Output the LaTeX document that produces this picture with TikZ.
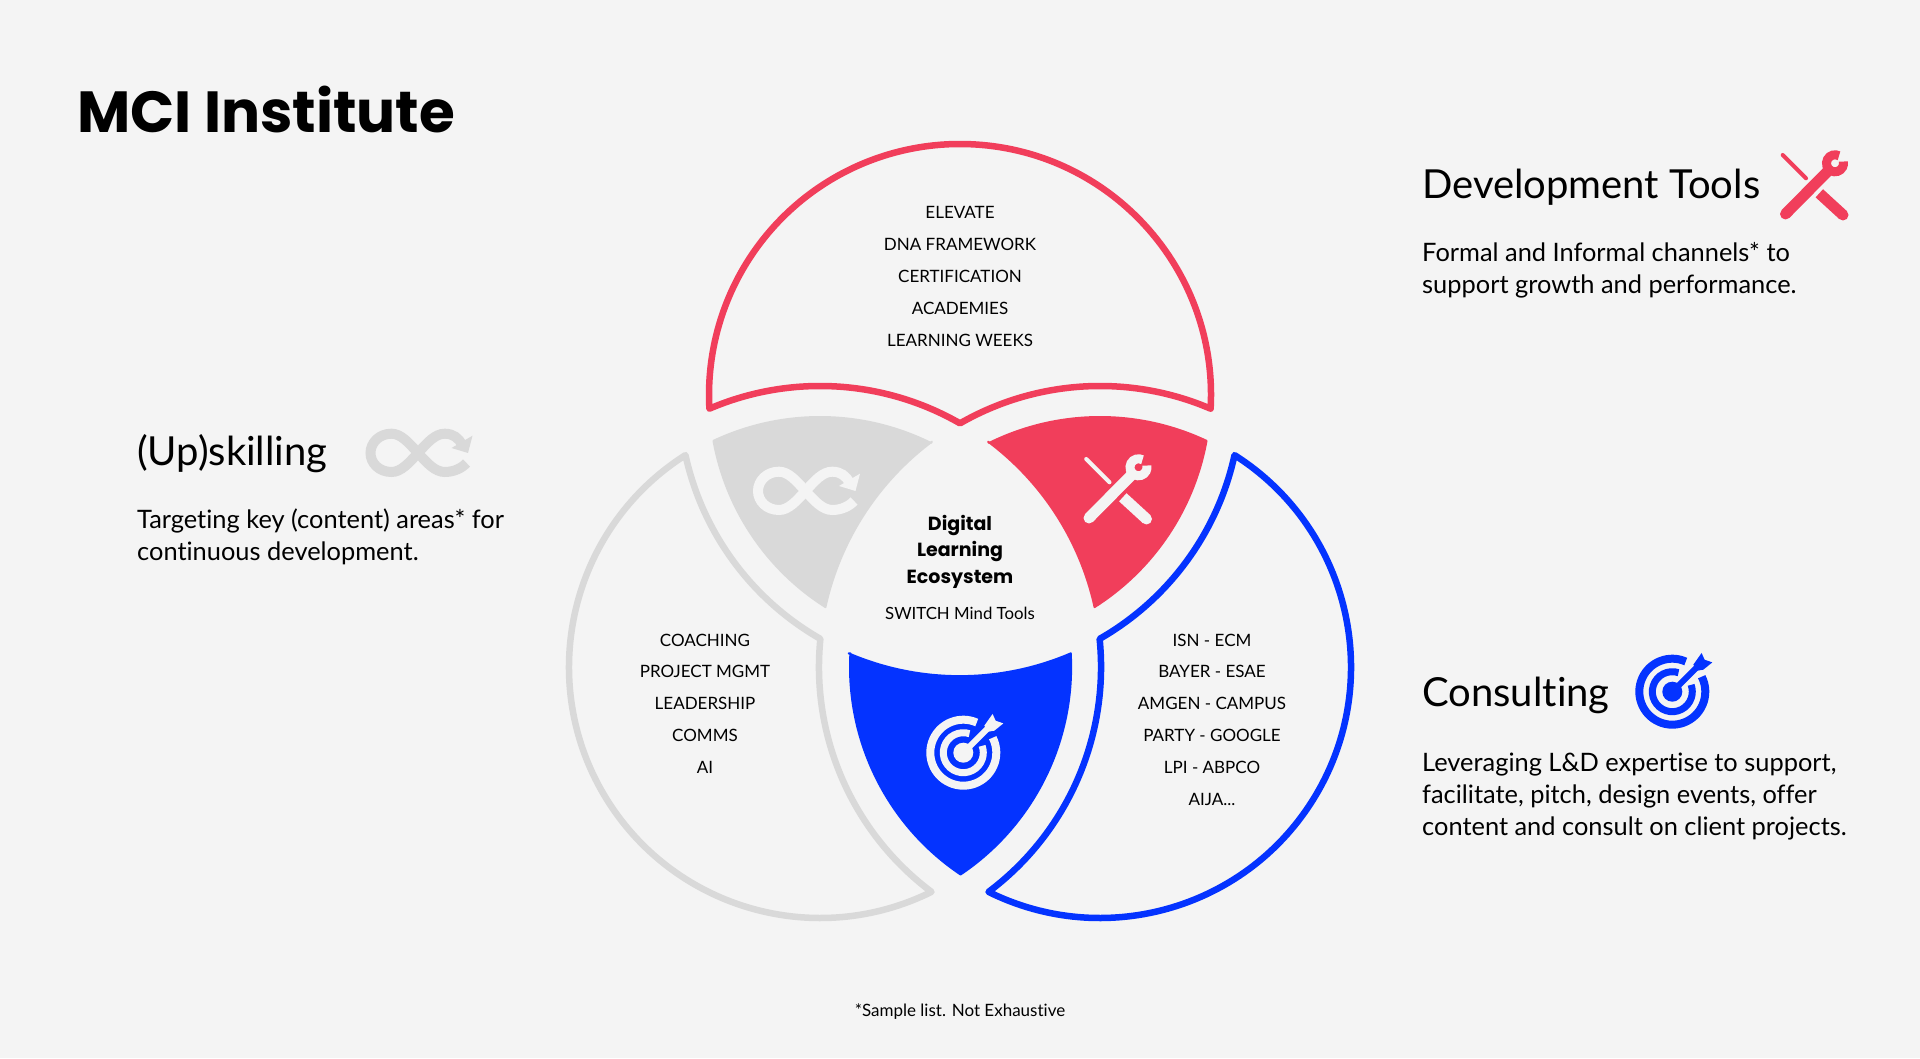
\documentclass[tikz,border=0pt]{standalone}
\usepackage{fontspec}
\setmainfont{Lato}[Ligatures=NoCommon]
\newfontfamily\titlefont{Poppins}
\usetikzlibrary{positioning}
\definecolor{pagebg}{RGB}{244,244,244}
\definecolor{toolred}{RGB}{241,62,91}
\definecolor{targetblue}{RGB}{4,51,255}
\definecolor{loopgray}{RGB}{217,217,217}

\tikzset{
  toolsicon/.pic={
    \draw[line width=11, line cap=round] (-28.5,-28) -- (14,15);
    \draw[line width=9] (21,22.7) ++(62:8.5) arc[start angle=62, end angle=372, radius=8.5];
    \draw[line width=4, line cap=round] (-31.3,31) -- (-8,7.7);
    \draw[line width=11] (5.3,-7.3) -- (29,-29);
    \fill (29,-29) circle (5.5);
  },
  targeticon/.pic={
    \draw[line width=8] (66:33) arc[start angle=66, end angle=387, radius=33];
    \draw[line width=7] (72:20) arc[start angle=72, end angle=380, radius=20];
    \fill (0,0) circle (10);
    \draw[line width=6] (0,0) -- (24,24);
    \fill (21,27) -- (29.3,38.7) -- (32.3,32) -- (40,29.3) -- (31,22) -- (25,21) -- cycle;
  },
  loopicon/.pic={
    \draw[line width=10] (-1,0) .. controls (-10,10) and (-18,19.3) .. (-27.5,19.3)
      .. controls (-40,19.3) and (-48.5,10) .. (-48.5,0)
      .. controls (-48.5,-10) and (-40,-19) .. (-27.5,-19)
      .. controls (-18,-19) and (-10,-10) .. (-1,0)
      .. controls (8,-10) and (16,-19) .. (25.8,-19)
      .. controls (35,-19) and (43,-15) .. (47.5,-10);
    \draw[line width=10] (-1,0) .. controls (8,10) and (16,19.3) .. (25.8,19.3)
      .. controls (34,19.3) and (40,15) .. (43,8);
    \fill (53.5,17.3) -- (49,0) -- (32.5,5) -- cycle;
  }
}

\begin{document}
\begin{tikzpicture}[
  x=1pt, y=1pt,
  outline/.style={line width=6.5, line join=round, fill=none},
  wedge/.style={line width=2, line join=round},
  listing/.style={align=center, inner sep=0, font=\fontsize{17}{31.8}\selectfont},
  heading/.style={anchor=base west, inner sep=0, font=\fontsize{40}{44}\selectfont},
  blurb/.style={anchor=north west, inner sep=0, align=left, font=\fontsize{25.4}{32}\selectfont}
]
  \useasboundingbox (0,0) rectangle (1920,1058);
  \fill[pagebg] (0,0) rectangle (1920,1058);

  % Circle centres
  \coordinate (ctop) at (960,663);
  \coordinate (cleft) at (820,391);
  \coordinate (cright) at (1100,391);

  % Outer petals
  \draw[outline, toolred] (ctop) ++(-3.13:251) arc[start angle=-3.13, end angle=183.13, radius=251]
    arc[start angle=113.19, end angle=60.12, radius=281]
    arc[start angle=119.88, end angle=66.81, radius=281] -- cycle;
  \draw[outline, targetblue] (cright) ++(57.59:251) arc[start angle=57.59, end angle=-116.37, radius=251]
    arc[start angle=-53.16, end angle=5.74, radius=281]
    arc[start angle=-60.22, end angle=-12.35, radius=281] -- cycle;
  \draw[outline, loopgray] (cleft) ++(122.41:251) arc[start angle=122.41, end angle=296.37, radius=251]
    arc[start angle=233.16, end angle=174.26, radius=281]
    arc[start angle=240.22, end angle=192.35, radius=281] -- cycle;

  % Inner wedges
  \filldraw[wedge, draw=toolred, fill=toolred] (cright) ++(116.37:250) arc[start angle=116.37, end angle=64.78, radius=250]
    arc[start angle=-10.32, end angle=-57.59, radius=250]
    arc[start angle=12.35, end angle=53.16, radius=282] -- cycle;
  \filldraw[wedge, draw=loopgray, fill=loopgray] (cleft) ++(63.63:250) arc[start angle=63.63, end angle=115.22, radius=250]
    arc[start angle=190.32, end angle=237.59, radius=250]
    arc[start angle=167.65, end angle=126.84, radius=282] -- cycle;
  \filldraw[wedge, draw=targetblue, fill=targetblue] (cright) ++(176.87:250) arc[start angle=176.87, end angle=236.10, radius=250]
    arc[start angle=-56.10, end angle=3.13, radius=250]
    arc[start angle=-66.81, end angle=-113.19, radius=282] -- cycle;

  % Icons in the wedges
  \pic[color=pagebg] (wedgetools) at (1117.5,568) {toolsicon};
  \pic[color=pagebg] (wedgeloop) at (806.5,567) {loopicon};
  \pic[color=pagebg] (wedgetarget) at (963.3,305.3) {targeticon};

  % Lists
  \node[listing] (toplist) at (960,781.5) {ELEVATE\\DNA FRAMEWORK\\CERTIFICATION\\ACADEMIES\\LEARNING WEEKS};
  \node[listing] (leftlist) at (705,354.5) {COACHING\\PROJECT MGMT\\LEADERSHIP\\COMMS\\AI};
  \node[listing] (rightlist) at (1212,338.5) {ISN - ECM\\BAYER - ESAE\\AMGEN - CAMPUS\\PARTY - GOOGLE\\LPI - ABPCO\\AIJA...};

  % Centre
  \node[align=center, inner sep=0, font=\titlefont\bfseries\fontsize{19}{26.5}\selectfont] (eco) at (960,506.5) {Digital\\Learning\\Ecosystem};
  \node[inner sep=0, font=\fontsize{16.8}{22}\selectfont] (switch) at (960,445) {SWITCH Mind Tools};

  % Title
  \node[anchor=base west, inner sep=0, font=\titlefont\bfseries\fontsize{58}{64}\selectfont] (title) at (77,925) {MCI Institute};

  % Side texts
  \node[heading] (devhead) at (1422,859) {Development Tools};
  \pic[color=toolred] (headtools) at (1814,872) {toolsicon};
  \node[blurb] (devtext) at (1422,816) {Formal and Informal channels* to\\support growth and performance.};

  \node[heading] (uphead) at (137,592) {(Up)skilling};
  \pic[color=loopgray] (headloop) at (419,605) {loopicon};
  \node[blurb] (uptext) at (137,549) {Targeting key (content) areas* for\\continuous development.};

  \node[heading] (conhead) at (1422,351) {Consulting};
  \pic[color=targetblue] (headtarget) at (1672.3,366.3) {targeticon};
  \node[blurb] (context) at (1422,305) {Leveraging L\&D expertise to support,\\facilitate, pitch, design events, offer\\content and consult on client projects.};

  \node[inner sep=0, font=\fontsize{17}{20}\selectfont] (footnote) at (960,46.5) {*Sample list. Not Exhaustive};
\end{tikzpicture}
\end{document}
